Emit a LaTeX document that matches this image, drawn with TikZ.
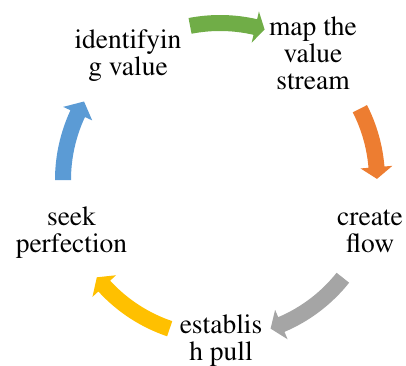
\documentclass[tikz,border=0pt]{standalone}
\usepackage[T1]{fontenc}
\usepackage{times}
\definecolor{cgreen}{HTML}{70AD47}
\definecolor{corange}{HTML}{ED7D31}
\definecolor{cgray}{HTML}{A5A5A5}
\definecolor{cyellow}{HTML}{FFC000}
\definecolor{cblue}{HTML}{5B9BD5}
\newcommand{\cycarrow}[4]{% colour, tail angle, head base angle, tip angle
  \fill[#1] (#2:165) arc[start angle=#2, end angle=#3, radius=165]
    -- (#3:173) -- (#4:157) -- (#3:141) -- (#3:149)
    arc[start angle=#3, end angle=#2, radius=149] -- cycle;}
\begin{document}
\begin{tikzpicture}[x=1pt,y=1pt,
  lbl/.style={anchor=north, align=center, inner sep=0pt,
    font=\rmfamily\fontsize{27.5}{27}\selectfont}]
\useasboundingbox (0,0) rectangle (406,365);
\coordinate (C) at (220,185);
\node[lbl] (identify) at (128,337) {\rule{0pt}{20pt}identifyin\\g value};
\node[lbl] (map) at (313,350) {\rule{0pt}{20pt}map the\\value\\stream};
\node[lbl] (create) at (370,160) {\rule{0pt}{20pt}create\\flow};
\node[lbl] (establish) at (221,52) {\rule{0pt}{20pt}establis\\h pull};
\node[lbl] (seek) at (71.5,160) {\rule{0pt}{20pt}seek\\perfection};
\begin{scope}[shift={(C)}]
\cycarrow{cgreen}{101}{77}{73.5}
\cycarrow{corange}{27}{4.7}{0.4}
\cycarrow{cgray}{-38.5}{-67}{-71.2}
\cycarrow{cyellow}{-108.7}{-137.5}{-141.7}
\cycarrow{cblue}{180}{155}{150}
\end{scope}
\end{tikzpicture}
\end{document}
